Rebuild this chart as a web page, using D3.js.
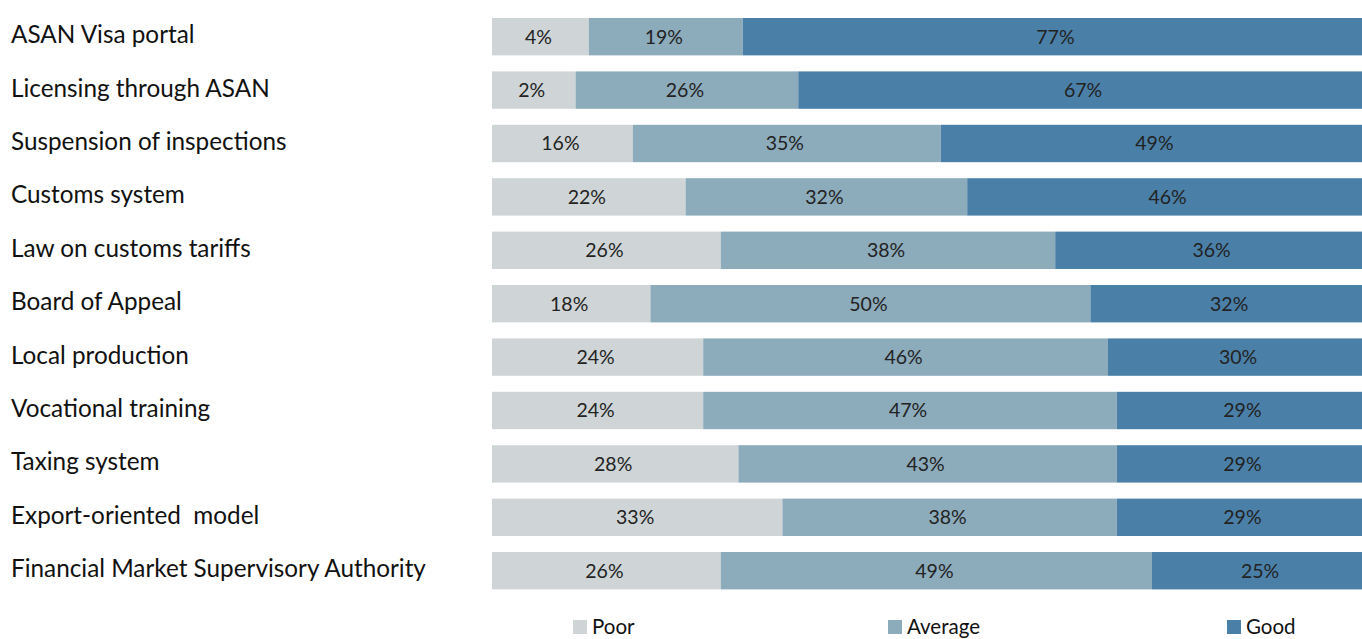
<!DOCTYPE html>
<html><head><meta charset="utf-8">
<script src="https://cdn.jsdelivr.net/npm/d3@7"></script>
<style>html,body{margin:0;padding:0;background:#fff;overflow:hidden} text{white-space:pre}</style>
</head><body>
<svg id="chart" width="1362" height="639"></svg>
<script>
const categories = ["ASAN Visa portal","Licensing through ASAN","Suspension of inspections","Customs system","Law on customs tariffs","Board of Appeal","Local production","Vocational training","Taxing system","Export-oriented  model","Financial Market Supervisory Authority"];
const seriesNames = ["Poor","Average","Good"];
// segment lengths as drawn (percent of bar)
const poorValues = [11, 9.5, 16, 22, 26, 18, 24, 24, 28, 33, 26];
const averageValues = [17.5, 25.3, 35, 32, 38, 50, 46, 47, 43, 38, 49];
const goodValues = [71.5, 65.2, 49, 46, 36, 32, 30, 29, 29, 29, 25];
// printed labels
const poorLabels = ["4%","2%","16%","22%","26%","18%","24%","24%","28%","33%","26%"];
const averageLabels = ["19%","26%","35%","32%","38%","50%","46%","47%","43%","38%","49%"];
const goodLabels = ["77%","67%","49%","46%","36%","32%","30%","29%","29%","29%","25%"];
const colors = ["#CFD5D6","#8CABBB","#4A80A8"];

const svg = d3.select("#chart");
const rows = categories.map((c,i)=>({cat:c, Poor:poorValues[i], Average:averageValues[i], Good:goodValues[i],
  labels:[poorLabels[i], averageLabels[i], goodLabels[i]]}));
const x = d3.scaleLinear().domain([0,100]).range([492,1372]);
const y = d3.scaleBand().domain(categories).range([18,589.4]).paddingInner(0.3).paddingOuter(0);
const stack = d3.stack().keys(seriesNames)(rows);
const font = "Lato, 'Open Sans', sans-serif";

stack.forEach((layer,k)=>{
  const g = svg.append("g");
  g.selectAll("rect").data(layer).join("rect")
    .attr("x", d=>x(d[0])).attr("width", d=>x(d[1])-x(d[0]))
    .attr("y", d=>y(d.data.cat)).attr("height", y.bandwidth())
    .attr("fill", colors[k]);
  g.selectAll("text").data(layer).join("text")
    .attr("x", d=>(x(d[0])+x(d[1]))/2 - 2)
    .attr("y", d=>y(d.data.cat)+y.bandwidth()/2)
    .attr("dy","0.35em").attr("text-anchor","middle")
    .attr("font-family", font).attr("font-size", 19.5).attr("fill","#222")
    .text(d=>d.data.labels[k]);
});

svg.append("g").selectAll("text").data(categories).join("text")
  .attr("x", 11).attr("y", d=>y(d)+y.bandwidth()/2 - 2)
  .attr("dy","0.35em").attr("font-family", font).attr("font-size", 24.3).attr("fill","#111")
  .text(d=>d);

const legendX = [573, 888, 1227];
const lg = svg.append("g");
seriesNames.forEach((s,i)=>{
  lg.append("rect").attr("x", legendX[i]).attr("y", 620).attr("width", 14).attr("height", 14).attr("fill", colors[i]);
  lg.append("text").attr("x", legendX[i]+19).attr("y", 634).attr("font-family", font).attr("font-size", 20.5).attr("fill","#111").text(s);
});
</script>
</body></html>
